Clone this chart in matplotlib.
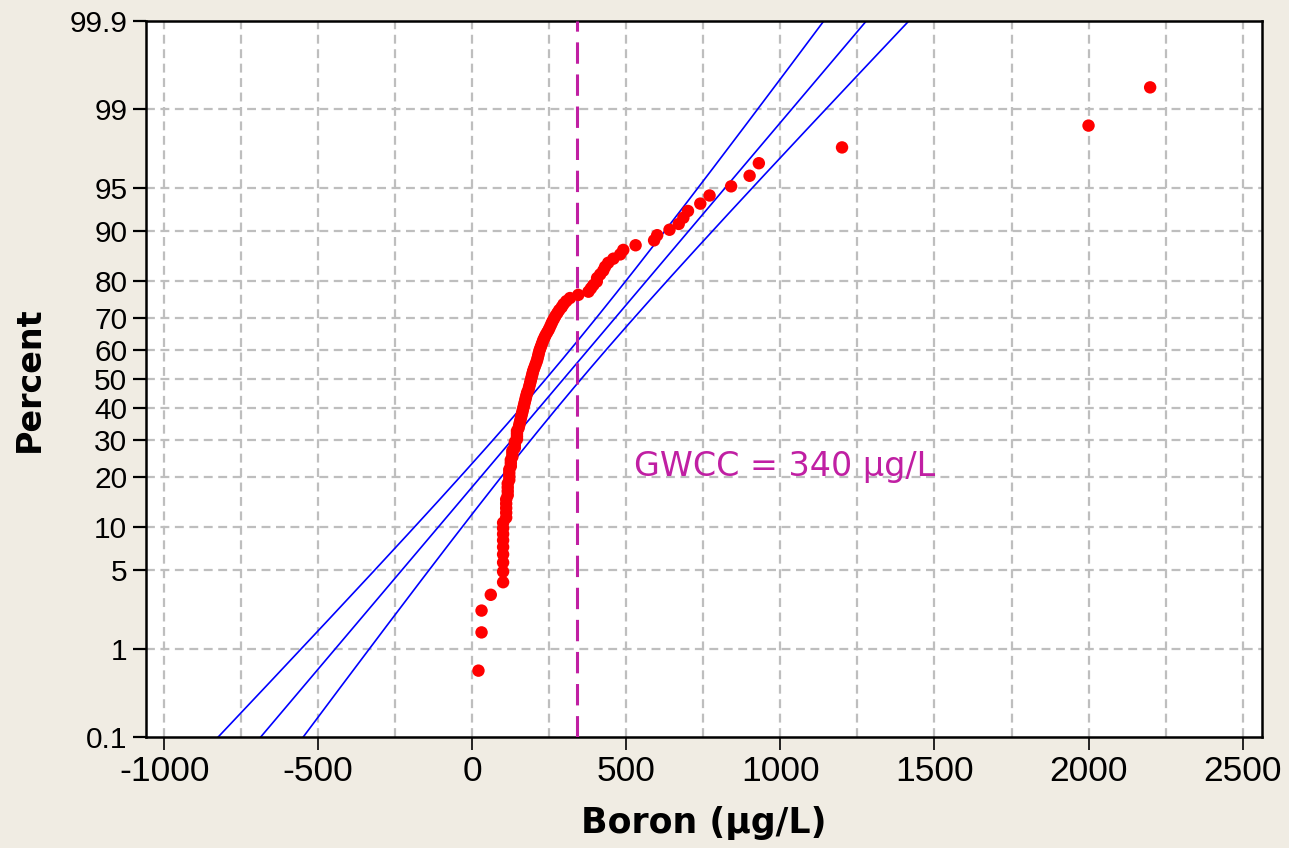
import numpy as np
import matplotlib
matplotlib.use("Agg")
import matplotlib.pyplot as plt
from statistics import NormalDist

# ---------------- data ----------------
boron = [20, 30, 30, 60,
         100, 100, 100, 100, 100, 100, 100, 100, 100,
         110, 110, 110, 110, 110,
         115, 115, 115, 115,
         120, 120, 120, 120,
         125, 125, 125,
         130, 130, 130,
         138, 138, 138,
         145, 145, 145, 145,
         150, 152, 154, 156, 158, 160, 162, 164,
         166, 168, 170, 172, 174, 176, 178, 182,
         184, 186, 188, 190, 192, 194, 196, 198,
         201, 204, 207, 210, 212, 214, 216, 218,
         221, 224, 227, 230, 234, 238, 243, 248,
         252, 256, 260, 265, 270, 276,
         282, 290, 296, 305, 317, 344,
         377, 385, 393, 404, 405, 415, 425, 431, 441, 458, 480, 490, 530,
         590, 600, 640, 670, 685, 700, 740, 770,
         840, 900, 930, 1200, 2000, 2200]
fit_mean = 296.0
fit_sd = 318.0
gwcc = 340
x_ticks = [-1000, -500, 0, 500, 1000, 1500, 2000, 2500]
x_grid = [-1000, -750, -500, -250, 0, 250, 500, 750, 1000, 1250, 1500, 1750, 2000, 2250, 2500]
y_ticks = [0.1, 1, 5, 10, 20, 30, 40, 50, 60, 70, 80, 90, 95, 99, 99.9]
y_labels = ["0.1", "1", "5", "10", "20", "30", "40", "50", "60", "70", "80", "90", "95", "99", "99.9"]

# ---------------- probability scale ----------------
_nd = NormalDist()
_ppf = np.vectorize(lambda p: _nd.inv_cdf(min(max(p / 100.0, 1e-9), 1 - 1e-9)), otypes=[float])
_cdf = np.vectorize(lambda z: _nd.cdf(z) * 100.0, otypes=[float])

def fwd(p):
    return _ppf(np.asarray(p, dtype=float))

def inv(z):
    return _cdf(np.asarray(z, dtype=float))

BG = "#F0ECE3"
MAG = "#C01FA3"
plt.rcParams["font.family"] = ["DejaVu Sans"]
plt.rcParams["axes.unicode_minus"] = False

fig = plt.figure(figsize=(12.89, 8.48), dpi=100, facecolor=BG)
ax = fig.add_axes([146 / 1289, 1 - 737 / 848, (1262 - 146) / 1289, (737 - 21) / 848])
ax.set_facecolor("white")
ax.set_yscale("function", functions=(fwd, inv))

# sorted data with median ranks
x = np.sort(np.array(boron, dtype=float))
n = len(x)
ranks = np.arange(1, n + 1)
pct = (ranks - 0.3) / (n + 0.4) * 100.0

# fitted normal line with 95% CI
zz = np.linspace(-3.3, 3.3, 300)
pp = inv(zz)
xf = fit_mean + zz * fit_sd
half = 1.96 * fit_sd * np.sqrt(1.0 / n + zz ** 2 / (2.0 * n))

# grid
for g in x_grid:
    ax.axvline(g, color="#BEBEBE", lw=1.6, ls=(0, (4, 2.5)), zorder=0)
for t in y_ticks[1:-1]:
    ax.axhline(t, color="#BEBEBE", lw=1.6, ls=(0, (4, 2.5)), zorder=0)

ax.plot(xf, pp, color="#0000FF", lw=1.2, zorder=2)
ax.plot(xf - half, pp, color="#0000FF", lw=1.2, zorder=2)
ax.plot(xf + half, pp, color="#0000FF", lw=1.2, zorder=2)

ax.axvline(gwcc, color=MAG, lw=2.2, ls=(0, (7, 3.5)), zorder=3)
ax.scatter(x, pct, s=80, color="#FF0000", edgecolors="none", zorder=4)

ax.text(525, 22.6, "GWCC = 340 µg/L", color=MAG, fontsize=24, ha="left", va="center", zorder=5)

ax.set_xlim(-1059, 2563)
ax.set_ylim(0.1, 99.9)
ax.set_xticks(x_ticks)
ax.set_xticklabels([str(v) for v in x_ticks], fontfamily="Liberation Sans")
ax.set_yticks(y_ticks)
ax.set_yticklabels(y_labels, fontfamily="Liberation Sans")
ax.minorticks_off()
ax.tick_params(axis="x", labelsize=25.5, length=9, width=1.2, pad=4, direction="out")
ax.tick_params(axis="y", labelsize=21.5, length=9.5, width=1.6, pad=4, direction="out")
for s in ax.spines.values():
    s.set_linewidth(1.8)
    s.set_color("black")

ax.set_xlabel("Boron (µg/L)", fontsize=25, fontweight="bold", labelpad=13)
ax.set_ylabel("Percent", fontsize=24, fontweight="bold", labelpad=17)

fig.savefig("out.png", dpi=100, facecolor=BG)
